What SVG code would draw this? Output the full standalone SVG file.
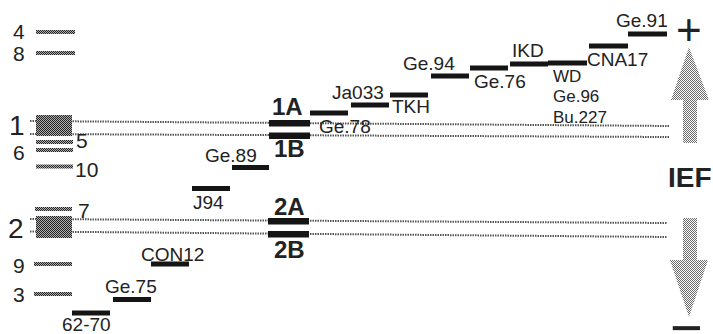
<svg xmlns="http://www.w3.org/2000/svg" width="713" height="334" viewBox="0 0 713 334">
<defs>
<pattern id="dk" width="2" height="2" patternUnits="userSpaceOnUse"><rect width="2" height="2" fill="#b0b0b0"/><rect width="1" height="1" fill="#222"/><rect x="1" y="1" width="1" height="1" fill="#222"/></pattern>
<pattern id="lt" width="2" height="2" patternUnits="userSpaceOnUse"><rect width="2" height="2" fill="#fff"/><rect width="1" height="1" fill="#6a6a6a"/><rect x="1" y="1" width="1" height="1" fill="#6a6a6a"/></pattern>
</defs>
<style>
text{font-family:"Liberation Sans",Arial,sans-serif;fill:#222}
.n{font-size:21px}
.N{font-size:28px}
.g{font-size:19px}
.s{font-size:17px}
.b{font-size:24px;font-weight:bold}
.band{fill:url(#dk)}
.bar{fill:#151515}
.ln{stroke:#555;stroke-width:2;stroke-dasharray:1.5 1;fill:none}
.arr{fill:url(#lt)}
</style>
<rect width="713" height="334" fill="#fff"/>
<g id="connectors">
<line class="ln" x1="30" y1="121" x2="669" y2="126"/>
<line class="ln" x1="30" y1="134" x2="669" y2="137"/>
<line class="ln" x1="30" y1="219" x2="667" y2="223"/>
<line class="ln" x1="30" y1="231.5" x2="667" y2="237"/>
</g>
<g id="ladder">
<g id="m4"><rect class="band" x="36" y="30" width="39" height="4"/><text class="n" x="13" y="39">4</text></g>
<g id="m8"><rect class="band" x="36" y="51" width="39" height="4"/><text class="n" x="13" y="61">8</text></g>
<g id="m1"><rect class="band" x="36" y="115" width="36" height="21"/><text class="N" x="9" y="135">1</text></g>
<g id="m5"><rect class="band" x="36" y="140" width="37" height="4"/><text class="n" x="76" y="148">5</text></g>
<g id="m6"><rect class="band" x="36" y="148" width="37" height="4"/><text class="n" x="13" y="160">6</text></g>
<g id="m10"><rect class="band" x="36" y="164.5" width="37" height="4"/><text class="n" x="75" y="177">10</text></g>
<g id="m7"><rect class="band" x="35" y="207" width="37" height="4"/><text class="n" x="78" y="218">7</text></g>
<g id="m2"><rect class="band" x="36" y="216" width="36" height="22"/><text class="N" x="8" y="238">2</text></g>
<g id="m9"><rect class="band" x="34" y="262" width="38" height="4"/><text class="n" x="13" y="273">9</text></g>
<g id="m3"><rect class="band" x="34" y="292" width="38" height="4"/><text class="n" x="13" y="302">3</text></g>
</g>
<g id="g6270"><rect class="bar" x="72" y="310.5" width="38" height="5"/><text class="g" x="62" y="331">62-70</text></g>
<g id="gGe75"><rect class="bar" x="113" y="297" width="38" height="5"/><text class="g" x="105" y="293">Ge.75</text></g>
<g id="gCON12"><rect class="bar" x="151" y="261.5" width="38" height="5"/><text class="g" x="141" y="261">CON12</text></g>
<g id="gJ94"><rect class="bar" x="192" y="186" width="38" height="5"/><text class="g" x="193" y="209">J94</text></g>
<g id="gGe89"><rect class="bar" x="232" y="165" width="37" height="5"/><text class="g" x="205" y="162">Ge.89</text></g>
<g id="g1A"><rect class="bar" x="269" y="120" width="41" height="6.5"/><text class="b" x="272" y="115">1A</text></g>
<g id="g1B"><rect class="bar" x="269" y="132.5" width="41" height="6.5"/><text class="b" x="274" y="157">1B</text></g>
<g id="g2A"><rect class="bar" x="268" y="218" width="41" height="6.5"/><text class="b" x="274" y="215">2A</text></g>
<g id="g2B"><rect class="bar" x="268" y="231" width="41" height="6.5"/><text class="b" x="274" y="258">2B</text></g>
<g id="gGe78"><rect class="bar" x="310" y="110.5" width="38" height="5"/><text class="g" x="319" y="133">Ge.78</text></g>
<g id="gJa033"><rect class="bar" x="351" y="102.5" width="38" height="5"/><text class="g" x="332" y="99">Ja033</text></g>
<g id="gTKH"><rect class="bar" x="390" y="92.5" width="38" height="5"/><text class="g" x="392" y="113">TKH</text></g>
<g id="gGe94"><rect class="bar" x="431" y="73.5" width="38" height="5"/><text class="g" x="403" y="70">Ge.94</text></g>
<g id="gGe76"><rect class="bar" x="470" y="65.5" width="38" height="5"/><text class="g" x="474" y="88">Ge.76</text></g>
<g id="gIKD"><rect class="bar" x="510" y="61.5" width="38" height="5"/><text class="g" x="512" y="57">IKD</text></g>
<g id="gWD"><rect class="bar" x="548" y="60.5" width="39" height="5"/><text class="s" x="553" y="82">WD</text><text class="s" x="553" y="102">Ge.96</text><text class="s" x="553" y="123">Bu.227</text></g>
<g id="gCNA17"><rect class="bar" x="589" y="43.5" width="39" height="5"/><text class="g" x="587" y="66">CNA17</text></g>
<g id="gGe91"><rect class="bar" x="628" y="31.5" width="39" height="5"/><text class="g" x="616" y="27">Ge.91</text></g>
<g id="ief">
<polygon class="arr" points="689,47 709,100 697,100 697,143 683,143 683,100 671,100"/>
<polygon class="arr" points="683,218 697,218 697,260 708,260 689,317 670,260 683,260"/>
<text x="676" y="45" style="font-size:44px">+</text>
<text x="668" y="187" style="font-size:28px;font-weight:bold">IEF</text>
<text x="670" y="347" style="font-size:56px">−</text>
</g>
</svg>
